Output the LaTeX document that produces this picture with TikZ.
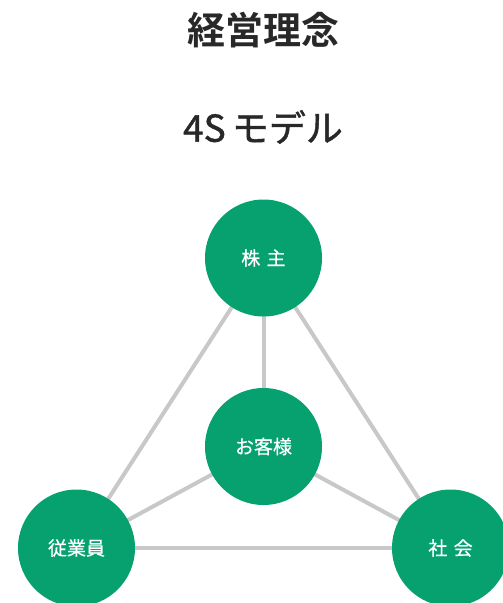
\documentclass[tikz,border=0pt]{standalone}
\usepackage{fontspec}
\newfontfamily\jp{Noto Sans CJK JP}
\newfontfamily\jpm{Noto Sans CJK JP}[FakeBold=1.2]
\newfontfamily\jpl{Noto Sans CJK JP}[FakeBold=0.6]
\newfontfamily\jpb{Noto Sans CJK JP}[BoldFont={* Bold}]
\definecolor{green4s}{RGB}{6,161,110}
\definecolor{link4s}{RGB}{200,200,200}
\definecolor{title4s}{RGB}{40,40,40}
\begin{document}
\begin{tikzpicture}[x=1pt,y=-1pt,
  party/.style={circle, fill=green4s, minimum size=117pt, inner sep=0pt, text=white, font=\jpl\fontsize{19}{22}\selectfont},
  link/.style={draw=link4s, line width=4pt},
  heading/.style={text=title4s, inner sep=0pt}]
\useasboundingbox (0,0) rectangle (503,603);
\begin{scope}
\clip (0,0) rectangle (503,603);
\coordinate (pT) at (263.5,258);
\coordinate (pC) at (263.5,446.5);
\coordinate (pL) at (76.5,548);
\coordinate (pR) at (450.5,548);
\draw[link] (pT) -- (pC);
\draw[link] (pT) -- (pL);
\draw[link] (pT) -- (pR);
\draw[link] (pL) -- (pR);
\draw[link] (pC) -- (pL);
\draw[link] (pC) -- (pR);
\node[party] (top) at (pT) {株\,\,主};
\node[party] (mid) at (pC) {お客様};
\node[party] (left) at (pL) {従業員};
\node[party] (right) at (pR) {社\,\,会};
\end{scope}
\node[heading, font=\jpb\bfseries\fontsize{38}{44}\selectfont] (title) at (263,30) {経営理念};
\node[heading, font=\jpm\fontsize{37}{44}\selectfont] (sub) at (263,127) {4S\,モデル};
\end{tikzpicture}
\end{document}
